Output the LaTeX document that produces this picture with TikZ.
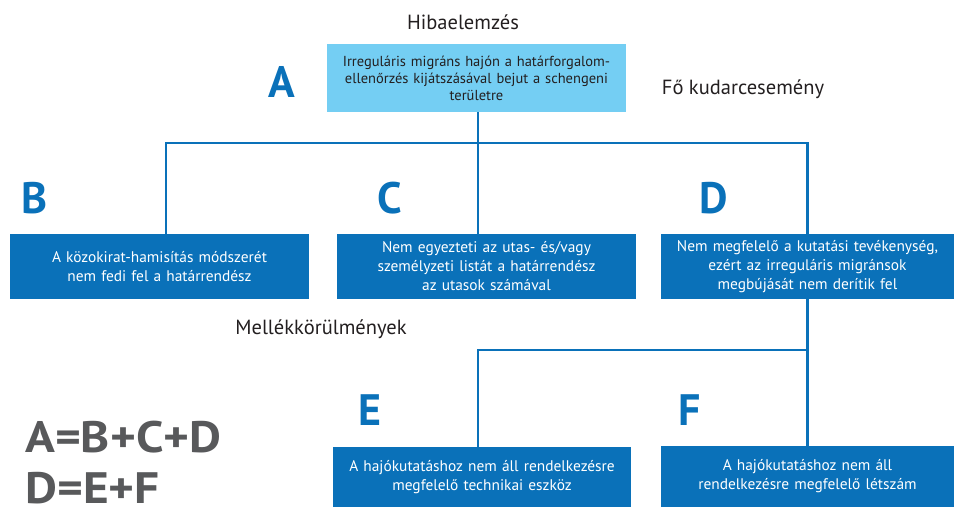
\documentclass[tikz,border=0pt]{standalone}
\usepackage{fontspec}
\setmainfont{PT Sans}
\usetikzlibrary{positioning,calc}
\definecolor{darkblue}{HTML}{0A71B9}
\definecolor{lightblue}{HTML}{74CEF3}
\definecolor{eqgray}{HTML}{58595B}
\definecolor{txtgray}{HTML}{231F20}
\begin{document}
\begin{tikzpicture}[x=1pt, y=-1pt,
  box/.style={fill=darkblue, text=white, inner sep=0pt, align=center, text width=292pt,
    minimum width=299pt, minimum height=65pt, font=\fontsize{15.4}{19}\selectfont},
  top/.style={box, fill=lightblue, text=txtgray, minimum height=68pt, font=\fontsize{14.5}{17}\selectfont},
  letter/.style={text=darkblue, font=\fontsize{44}{44}\selectfont\bfseries},
  caption/.style={text=txtgray, font=\fontsize{20.5}{20.5}\selectfont},
  link/.style={draw=darkblue, line width=2.5pt}]
\useasboundingbox (0,0) rectangle (954,507);
% boxes
\node[top] (boxA) at (476.5,78) {Irreguláris migráns hajón a határforgalom-\\ellenőrzés kijátszásával bejut a schengeni\\területre};
\node[box] (boxB) at (159.5,266.5) {A közokirat-hamisítás módszerét\\nem fedi fel a határrendész};
\node[box] (boxC) at (486.5,266.5) {Nem egyezteti az utas- és/vagy\\személyzeti listát a határrendész\\az utasok számával};
\node[box, minimum width=293pt, text width=288pt] (boxD) at (807.5,266.5) {Nem megfelelő a kutatási tevékenység,\\ezért az irreguláris migránsok\\megbújását nem derítik fel};
\node[box, minimum width=298pt, minimum height=60pt] (boxE) at (482,477) {A hajókutatáshoz nem áll rendelkezésre\\megfelelő technikai eszköz};
\node[box, minimum width=293pt, text width=288pt, minimum height=61pt] (boxF) at (807.5,476.5) {A hajókutatáshoz nem áll\\rendelkezésre megfelelő létszám};
% letters and captions
\node[letter] (lA) at (282,82) {A};
\node[letter] (lB) at (35,198) {B};
\node[letter] (lC) at (390,198) {C};
\node[letter] (lD) at (714,198) {D};
\node[letter] (lE) at (370,410) {E};
\node[letter] (lF) at (690,410) {F};
\node[caption] (title) at (463,22) {Hibaelemzés};
\node[caption] (main) at (743,89) {Fő kudarcesemény};
\node[caption] (side) at (321,329) {Mellékkörülmények};
\node[letter, text=eqgray, anchor=base west, inner sep=0pt] (eq1) at (25,452) {\scalebox{1.12}[1]{A=B+C+D}};
\node[letter, text=eqgray, anchor=base west, inner sep=0pt] (eq2) at (25,503) {\scalebox{1.12}[1]{D=E+F}};
% connectors
\coordinate (busTop) at (478,143);
\coordinate (busBot) at (478,350);
\coordinate (jB) at (166,143);
\draw[link] (boxA.south -| busTop) -- (busTop);
\draw[link] (boxB.north -| jB) |- (busTop) -| (boxD.north);
\draw[link] (busTop) -- (boxC.north -| busTop);
\draw[link] (boxD) -- (boxF);
\draw[link] (busBot -| boxD.south) -- (busBot) -- (boxE.north -| busBot);
\end{tikzpicture}
\end{document}
